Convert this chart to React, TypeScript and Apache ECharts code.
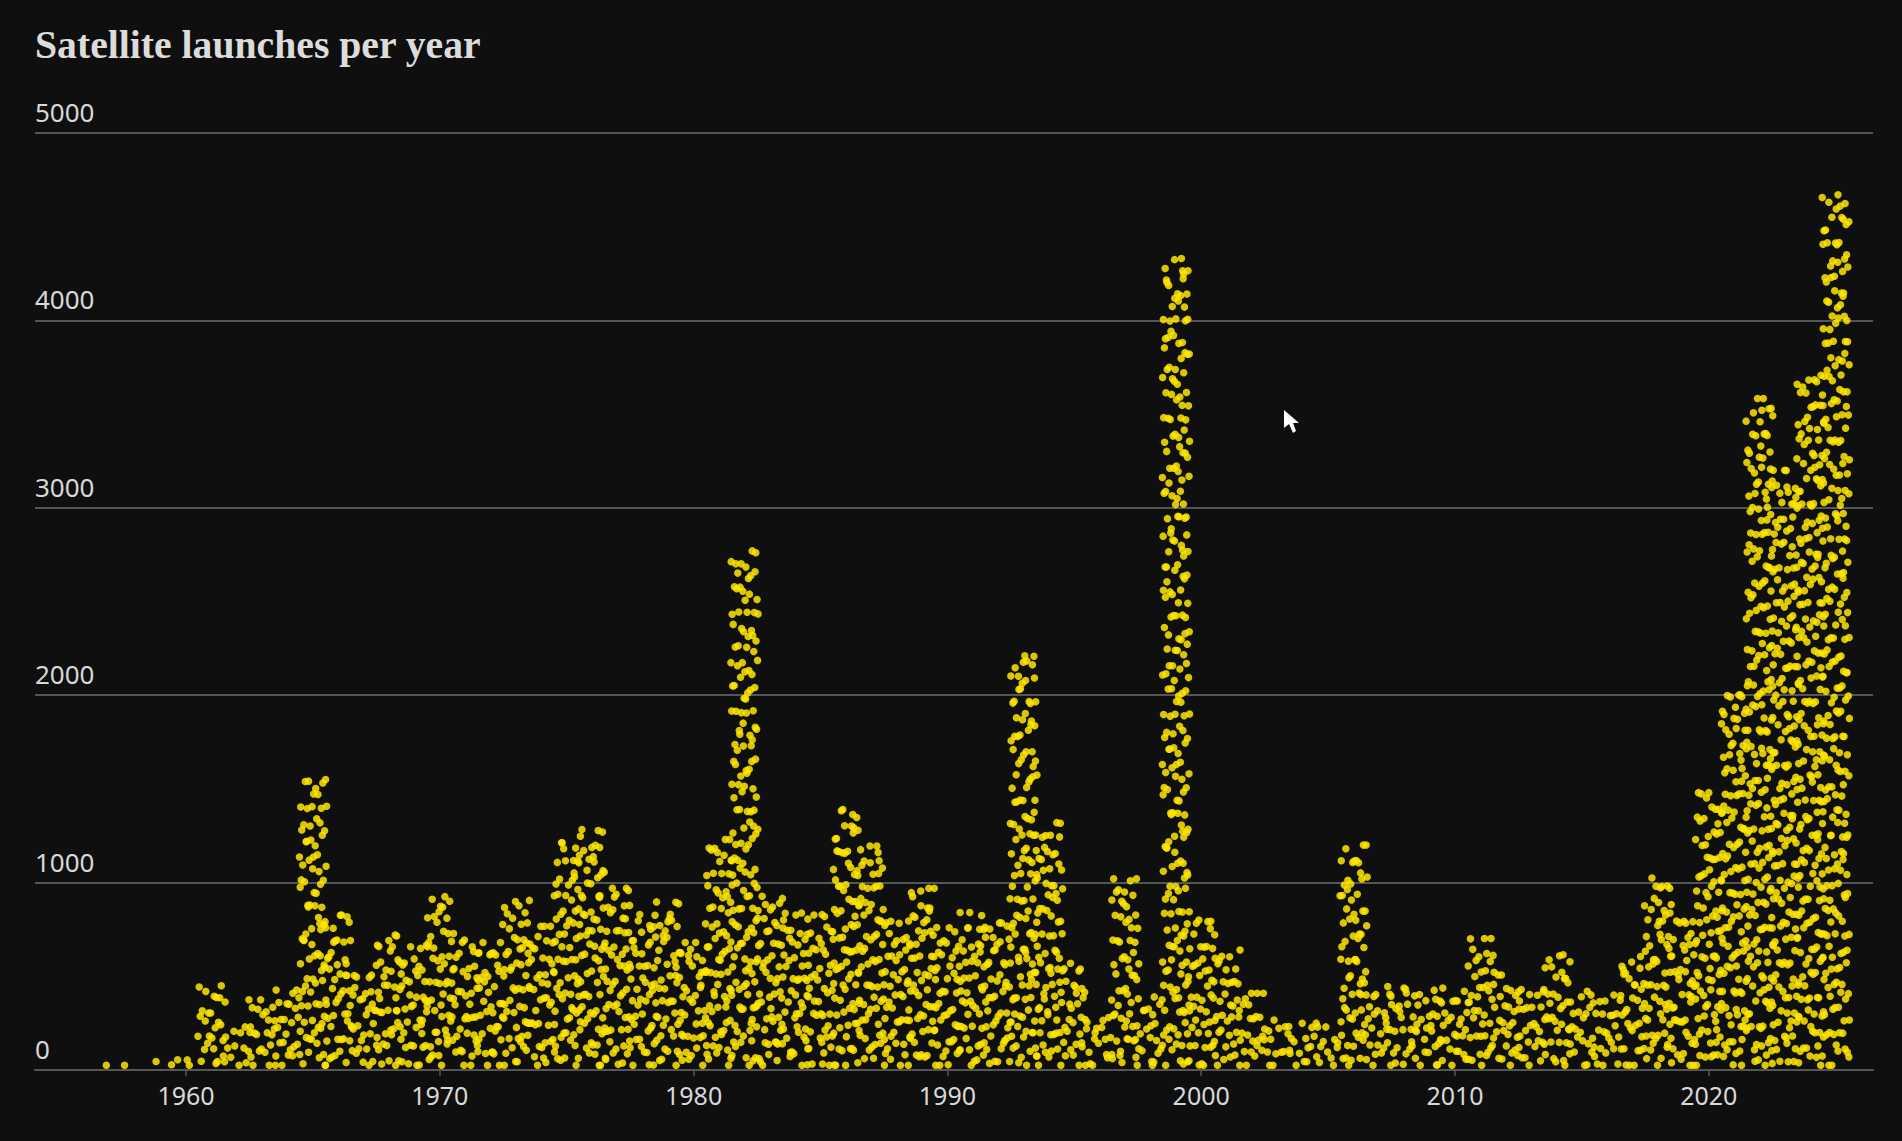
import React, { useEffect, useRef } from 'react';
import * as echarts from 'echarts';

const years = [
  1957, 1958, 1959, 1960, 1961, 1962, 1963, 1964, 1965, 1966, 1967, 1968, 1969, 1970,
  1971, 1972, 1973, 1974, 1975, 1976, 1977, 1978, 1979, 1980, 1981, 1982, 1983, 1984,
  1985, 1986, 1987, 1988, 1989, 1990, 1991, 1992, 1993, 1994, 1995, 1996, 1997, 1998,
  1999, 2000, 2001, 2002, 2003, 2004, 2005, 2006, 2007, 2008, 2009, 2010, 2011, 2012,
  2013, 2014, 2015, 2016, 2017, 2018, 2019, 2020, 2021, 2022, 2023, 2024, 2025,
];

// launches per year
const launches = [
  25, 25, 45, 55, 450, 230, 375, 427, 1550, 827, 510, 720, 658, 925,
  694, 680, 905, 767, 1212, 1283, 970, 830, 900, 680, 1230, 2770, 927, 838,
  830, 1390, 1195, 800, 970, 760, 840, 785, 2210, 1320, 570, 280, 1020, 390,
  4330, 800, 640, 410, 267, 250, 230, 1200, 445, 437, 437, 420, 702, 507,
  430, 615, 420, 400, 606, 1025, 838, 1480, 2050, 3583, 3200, 3707, 4670,
];

const yTicks = [0, 1000, 2000, 3000, 4000, 5000];
const xTicks = [1960, 1970, 1980, 1990, 2000, 2010, 2020];

const LAUNCHES_PER_DOT = 17;
const BASE_VALUE = 25;

// fixed spread of the dots inside a year column (years, dot steps)
const spreadX = [
  -0.42, 0.31, -0.37, 0.22, 0.27, -0.05, 0.48, -0.18, 0.43, -0.12, -0.2, 0.35, -0.5, 0.08,
  0.13, -0.33, 0.05, 0.41, -0.01, -0.46, 0.3, -0.4, 0.24, 0.18, -0.15, 0.52, -0.27, 0.02,
  0.09, -0.53, 0.37, -0.08, 0.46, -0.24, 0.15, -0.36, -0.44, 0.28, 0.33, -0.11, 0.54, -0.03,
  -0.22, 0.11, -0.48, 0.2, 0.39, 0.03, -0.3, 0.5, -0.17, 0.25, -0.39, -0.06, 0.42, 0.16,
  -0.52, 0.06, -0.26, 0.31, -0.13, 0.45, -0.34, 0.21, -0.02, -0.45, 0.36, 0.12, 0.53, -0.19,
  -0.29, 0.26, -0.09, 0.38, -0.41, 0, 0.47, -0.23, 0.1, -0.49, 0.34, 0.19, -0.14, 0.44,
  -0.35, 0.07, -0.04, 0.29, -0.28,
];
const spreadY = [
  0, 2.6, -1.8, 1.1, 3.7, -0.8, -3.2, 1.9, -1.2, 3.1, 0.4, -2.5, 4.2, -1.6, 0.9, -3.6, 2.2, -0.3,
  1.6, -2.7, 3.4, 0.5, -2.1, -0.9, 2.7, -3.9, 1.3, 0.2, -1.4, 3.9, -2.9,
];

// unit chart: one dot per LAUNCHES_PER_DOT launches in each year's column
const buildDots = () => {
  const dots: [number, number][] = [];
  years.forEach((year, i) => {
    const value = launches[i];
    const count = Math.max(1, Math.round((value - BASE_VALUE) / LAUNCHES_PER_DOT) + 1);
    const phaseX = (year * 7) % spreadX.length;
    const phaseY = (year * 11) % spreadY.length;
    for (let k = 0; k < count; k++) {
      const dx = spreadX[(k + phaseX) % spreadX.length];
      const dy = spreadY[(k + phaseY) % spreadY.length] * LAUNCHES_PER_DOT;
      const y = Math.min(value, Math.max(BASE_VALUE, BASE_VALUE + k * LAUNCHES_PER_DOT + dy));
      dots.push([year + dx, y]);
    }
  });
  return dots;
};

const App: React.FC = () => {
  const chartRef = useRef<HTMLDivElement>(null);

  useEffect(() => {
    if (!chartRef.current) return;
    document.body.style.margin = '0';
    document.body.style.background = '#0f0f0f';

    const chart = echarts.init(chartRef.current, undefined, { renderer: 'svg' });
    chart.setOption({
      animation: false,
      backgroundColor: '#0f0f0f',
      grid: { left: 35, right: 29, top: 133, bottom: 71 },
      graphic: [
        {
          type: 'text',
          x: 35,
          y: 25,
          style: {
            text: 'Satellite launches per year',
            fill: '#dcdcdc',
            font: 'bold 39.7px "Liberation Serif"',
          },
        },
        {
          // mouse pointer caught in the screenshot
          type: 'polygon',
          z: 10,
          shape: {
            points: [[1284, 410], [1284, 428], [1289, 424], [1293, 433], [1296, 431], [1293, 423], [1299, 423]],
          },
          style: { fill: '#ffffff' },
        },
      ],
      xAxis: {
        type: 'value',
        min: 1954.05,
        max: 2026.47,
        splitLine: { show: false },
        axisLine: { show: true, onZero: false, lineStyle: { color: '#565656', width: 2 } },
        axisTick: { show: true, length: 6, customValues: xTicks, lineStyle: { color: '#565656', width: 1.5 } },
        axisLabel: {
          customValues: xTicks,
          formatter: (v: number) => String(v),
          color: '#d8d8d8',
          fontFamily: 'Noto Sans',
          fontSize: 25,
          margin: 12,
        },
      },
      yAxis: {
        type: 'value',
        min: 0,
        max: 5000,
        interval: 1000,
        axisLine: { show: false },
        axisTick: { show: false },
        splitLine: { lineStyle: { color: '#565656', width: 2 } },
        axisLabel: {
          inside: true,
          margin: 0,
          align: 'left',
          verticalAlign: 'bottom',
          lineHeight: 42,
          customValues: yTicks,
          formatter: (v: number) => String(v),
          color: '#d8d8d8',
          fontFamily: 'Noto Sans',
          fontSize: 26,
        },
      },
      series: [
        {
          type: 'scatter',
          data: buildDots(),
          symbol: 'circle',
          symbolSize: 7.5,
          silent: true,
          itemStyle: { color: '#ffe600', opacity: 0.85 },
        },
      ],
    });

    return () => {
      chart.dispose();
    };
  }, []);

  return <div ref={chartRef} style={{ position: 'absolute', left: 0, top: 0, width: 1902, height: 1141 }} />;
};

export default App;
